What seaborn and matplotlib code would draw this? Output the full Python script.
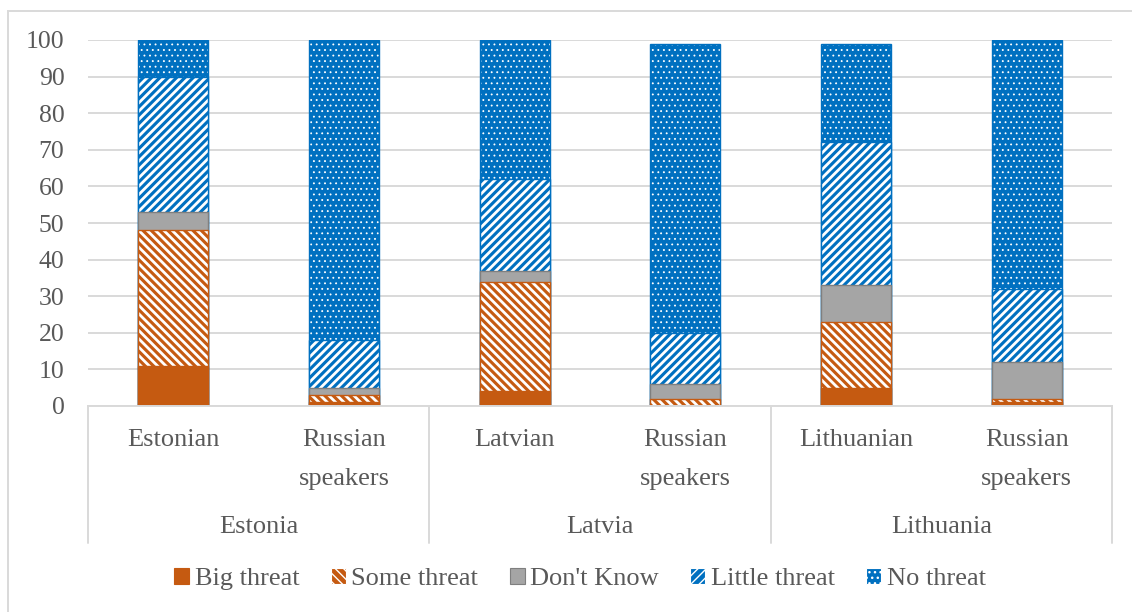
import numpy as np
import pandas as pd
import seaborn as sns
import matplotlib as mpl
import matplotlib.pyplot as plt
from matplotlib.patches import Patch, Rectangle
from matplotlib.lines import Line2D
from matplotlib.transforms import blended_transform_factory

# ---------------- data ----------------
countries = ["Estonia", "Latvia", "Lithuania"]
groups = ["Estonian", "Russian\nspeakers", "Latvian", "Russian\nspeakers",
          "Lithuanian", "Russian\nspeakers"]
group_country = ["Estonia", "Estonia", "Latvia", "Latvia", "Lithuania", "Lithuania"]

big_threat = [11, 1, 4, 0, 5, 1]
some_threat = [37, 2, 30, 2, 18, 1]
dont_know = [5, 2, 3, 4, 10, 10]
little_threat = [37, 13, 25, 14, 39, 20]
no_threat = [10, 82, 38, 79, 27, 68]

series_names = ["Big threat", "Some threat", "Don't Know", "Little threat", "No threat"]
series_values = [big_threat, some_threat, dont_know, little_threat, no_threat]

# ---------------- style ----------------
ORANGE = "#C55A11"
GRAY = "#A5A5A5"
GRAY_EDGE = "#7F7F7F"
BLUE = "#0070C0"
TEXT = "#595959"
GRID = "#D9D9D9"

styles = {
    "Big threat":    dict(color=ORANGE, hatch=None, hlw=1.0, edge=ORANGE),
    "Some threat":   dict(color=ORANGE, hatch="\\\\\\\\", hlw=2.0, edge="white"),
    "Don't Know":    dict(color=GRAY, hatch=None, hlw=1.0, edge=GRAY_EDGE),
    "Little threat": dict(color=BLUE, hatch="////", hlw=2.0, edge="white"),
    "No threat":     dict(color=BLUE, hatch="...", hlw=0.6, edge="white"),
}

sns.set_theme(style="white")
plt.rcParams["font.family"] = ["Liberation Serif", "DejaVu Serif"]
FS = 19
FS_TICK = 18.5

W, H = 1132, 612
fig = plt.figure(figsize=(W / 100, H / 100), dpi=100)
ax = fig.add_axes([88 / W, 1 - 406 / H, (1112 - 88) / W, (406 - 40) / H])

bar_ids = [f"{c}|{g}|{i}" for i, (c, g) in enumerate(zip(group_country, groups))]
df = pd.DataFrame({"bar": bar_ids})
cum = np.zeros(len(bar_ids))
for name, vals in zip(series_names, series_values):
    cum = cum + np.array(vals, dtype=float)
    df["cum_" + name] = cum

BAR_W = 0.41
for name in reversed(series_names):
    st = styles[name]
    with mpl.rc_context({"hatch.linewidth": st["hlw"]}):
        sns.barplot(data=df, x="bar", y="cum_" + name, order=bar_ids,
                    color=st["color"], saturation=1, errorbar=None,
                    width=BAR_W, hatch=st["hatch"], edgecolor=st["edge"],
                    linewidth=(0 if st["hatch"] else 1.0), ax=ax)
    if st["hatch"]:
        sns.barplot(data=df, x="bar", y="cum_" + name, order=bar_ids,
                    color=st["color"], saturation=1, errorbar=None,
                    width=BAR_W, fill=False, linewidth=1.0, ax=ax)

ax.set_xlim(-0.5, 5.5)
ax.set_ylim(0, 100)
ax.set_yticks(range(0, 101, 10))
ax.set_xticks(range(len(bar_ids)))
ax.set_xticklabels([""] * len(bar_ids))
ax.set_xlabel("")
ax.set_ylabel("")
ax.tick_params(axis="both", length=0)
ax.tick_params(axis="y", pad=17, labelsize=FS_TICK, labelcolor=TEXT)
ax.yaxis.grid(True, color=GRID, linewidth=1.4)
ax.xaxis.grid(False)
ax.set_axisbelow(True)
for s in ["top", "right", "left"]:
    ax.spines[s].set_visible(False)
ax.spines["bottom"].set_color(GRID)
ax.spines["bottom"].set_linewidth(1.4)

# multi-level category labels
tr = blended_transform_factory(ax.transData, fig.transFigure)
for i, g in enumerate(groups):
    for k, line in enumerate(g.split("\n")):
        ax.text(i, 1 - (446 + 39 * k) / H, line, transform=tr, ha="center",
                va="baseline", fontsize=FS, color=TEXT)
for k, c in enumerate(countries):
    ax.text(2 * k + 0.5, 1 - 533 / H, c, transform=tr, ha="center", va="baseline",
            fontsize=FS, color=TEXT)
for xv in [-0.5, 1.5, 3.5, 5.5]:
    fig.add_artist(Line2D([xv, xv], [1 - 406 / H, 1 - 543 / H], transform=tr,
                          color=GRID, linewidth=1.4, clip_on=False))

# legend
handles = []
for name in series_names:
    st = styles[name]
    with mpl.rc_context({"hatch.linewidth": min(st["hlw"], 1.6)}):
        handles.append(Patch(facecolor=st["color"], edgecolor=st["edge"],
                             hatch=st["hatch"], linewidth=0.8))
leg = fig.legend(handles, series_names, loc="center", ncol=5,
                 bbox_to_anchor=(580 / W, 1 - 579 / H), frameon=False,
                 fontsize=FS, handlelength=0.57, handleheight=0.57,
                 handletextpad=0.2, columnspacing=1.2, borderaxespad=0)
for t in leg.get_texts():
    t.set_color(TEXT)

# chart frame
fig.add_artist(Rectangle((8 / W, -0.05), 1.2, 1 - 11 / H + 0.05,
                         transform=fig.transFigure, fill=False,
                         edgecolor=GRID, linewidth=1.4))

fig.savefig("out.png", dpi=100)
